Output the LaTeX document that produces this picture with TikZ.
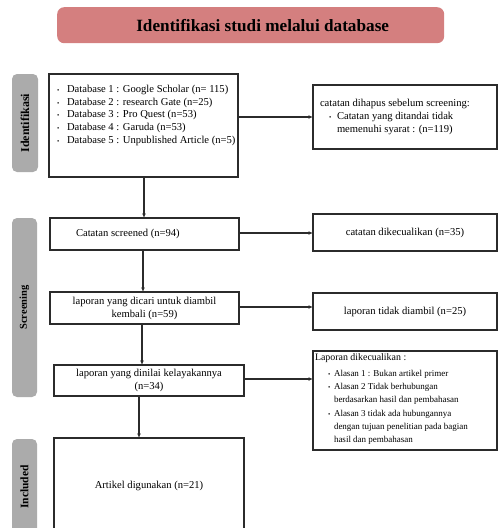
\documentclass[tikz,border=0pt]{standalone}
\usepackage{fontspec}
\setmainfont{Liberation Serif}
\usetikzlibrary{arrows.meta,calc}
\definecolor{titlered}{HTML}{D47F7F}
\definecolor{sidegray}{HTML}{ABABAB}
\definecolor{lin}{HTML}{2B2B2B}
\newcommand\blt{{\fontsize{6.5}{6.5}\selectfont\textbullet}}
\newcommand\ditem[1]{\par\noindent\hspace*{8pt}\makebox[10pt][l]{\blt}#1}
\newcommand\ritem[1]{\par\noindent\hangindent=24pt\hangafter=1\hspace*{16pt}\makebox[8pt][l]{\blt}#1}
\newcommand\qitem[1]{\par\noindent\hangindent=21pt\hangafter=1\hspace*{15pt}\makebox[6pt][l]{\blt}#1}
\begin{document}
\begin{tikzpicture}[x=1pt,y=-1pt,
  box/.style={draw=lin, line width=1.2pt, inner sep=0pt, outer sep=0pt, anchor=north west},
  cbox/.style={box, align=center},
  side/.style={fill=sidegray, rounded corners=5pt, inner sep=0pt, rotate=90,
    font=\fontsize{10.5}{12}\selectfont\bfseries},
  arr/.style={draw=lin, line width=1.2pt, -{Latex[length=4.5pt,width=4pt]}},
  txt/.style={font=\fontsize{10.6}{13}\selectfont}
]
\useasboundingbox (0,0) rectangle (498,528);
\clip (0,0) rectangle (498,528);

% title
\node[fill=titlered, rounded corners=7pt, inner sep=0pt, anchor=north west,
  minimum width=387pt, minimum height=36pt,
  font=\fontsize{17.2}{19}\selectfont\bfseries] (title) at (57,7)
  {\hspace*{24pt}Identifikasi studi melalui database};

% side labels
\node[side, minimum width=98pt, minimum height=26pt, font=\fontsize{12}{13}\selectfont\bfseries] (sI) at (25,123) {Identifikasi};
\node[side, minimum width=179pt, minimum height=25pt] (sS) at (24.5,307.5) {Screening};
\node[side, minimum width=96pt, minimum height=25pt, font=\fontsize{11.5}{13}\selectfont\bfseries] (sN) at (24.5,487) {Included};

% left column
\node[box, txt] (b1) at (49,74) {\begin{minipage}[t][103pt][t]{189pt}\raggedright
  \fontsize{10.6}{12.7}\selectfont
  \vspace*{11pt}%
  \ditem{Database 1 : Google Scholar (n= 115)}
  \ditem{Database 2 : research Gate (n=25)}
  \ditem{Database 3 : Pro Quest (n=53)}
  \ditem{Database 4 : Garuda (n=53)}
  \ditem{Database 5 : Unpublished Article (n=5)}
  \end{minipage}};
\node[box, txt] (b2) at (50,218) {\begin{minipage}[c][32pt][c]{189pt}\raggedright
  \hspace*{26pt}Catatan screened (n=94)\end{minipage}};
\node[cbox, txt, minimum width=189pt, minimum height=32pt] (b3) at (50,292)
  {laporan yang dicari untuk diambil\\kembali (n=59)};
\node[cbox, txt, minimum width=190pt, minimum height=31pt] (b4) at (54,365)
  {laporan yang dinilai kelayakannya\\(n=34)};
\node[cbox, txt, minimum width=190pt, minimum height=96pt] (b5) at (54,438)
  {Artikel digunakan (n=21)};

% right column
\node[box, txt] (r1) at (313,85) {\begin{minipage}[t][64pt][t]{184pt}\raggedright
  \fontsize{10.6}{13}\selectfont
  \vspace*{14.5pt}%
  \par\noindent\hspace*{7pt}catatan dihapus sebelum screening:
  \ritem{Catatan yang ditandai tidak\newline memenuhi syarat : (n=119)}
  \end{minipage}};
\node[cbox, txt, minimum width=184pt, minimum height=37pt] (r2) at (313,214)
  {catatan dikecualikan (n=35)};
\node[cbox, txt, minimum width=184pt, minimum height=37pt] (r3) at (313,293)
  {laporan tidak diambil (n=25)};
\node[box, txt] (r4) at (313,351) {\begin{minipage}[t][99pt][t]{184pt}\raggedright
  \fontsize{9}{13.2}\selectfont
  \vspace*{2.5pt}%
  \par\noindent\hspace*{2pt}{\fontsize{9.9}{12}\selectfont Laporan dikecualikan :}\par\vspace{3pt}
  \qitem{Alasan 1 : Bukan artikel primer}
  \qitem{Alasan 2 Tidak berhubungan\newline berdasarkan hasil dan pembahasan}
  \qitem{Alasan 3 tidak ada hubungannya\newline dengan tujuan penelitian pada bagian\newline hasil dan pembahasan}
  \end{minipage}};

% horizontal connectors
\coordinate (h1) at ($(b1.north east)+(0,43)$);
\coordinate (h2) at ($(b2.north east)+(0,15)$);
\coordinate (h3) at ($(b3.north east)+(0,15)$);
\coordinate (h4) at ($(b4.north east)+(0,14)$);
\draw[arr] (h1) -- (h1 -| r1.west);
\draw[arr] (h2) -- (h2 -| r2.west);
\draw[arr] (h3) -- (h3 -| r3.west);
\draw[arr] (h4) -- (h4 -| r4.west);

% vertical connectors
\coordinate (v1) at ($(b1.south west)+(95,0)$);
\coordinate (v2) at ($(b2.south west)+(93,0)$);
\coordinate (v3) at ($(b3.south west)+(92,0)$);
\coordinate (v4) at ($(b4.south west)+(85,0)$);
\draw[arr] (v1) -- (v1 |- b2.north);
\draw[arr] (v2) -- (v2 |- b3.north);
\draw[arr] (v3) -- (v3 |- b4.north);
\draw[arr] (v4) -- (v4 |- b5.north);
\end{tikzpicture}
\end{document}
